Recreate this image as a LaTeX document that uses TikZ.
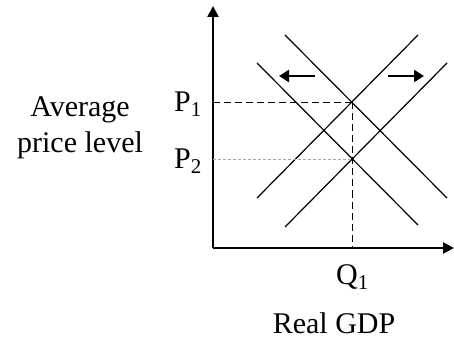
\documentclass[tikz,border=0pt]{standalone}
\usepackage{fontspec}
\setmainfont{Liberation Serif}
\usetikzlibrary{arrows.meta,positioning}

\begin{document}
\begin{tikzpicture}[x=1pt, y=1pt,
    axis/.style={line width=2.4pt, -{Triangle[length=11pt,width=11pt]}},
    curve/.style={line width=1.2pt},
    shift arrow/.style={line width=2.8pt, -{Triangle[length=10pt,width=12pt]}},
    lbl/.style={font=\fontsize{30}{36}\selectfont, inner sep=0pt}]

    \useasboundingbox (0,0) rectangle (454,340);

    % Axes
    \coordinate (O) at (213,92);
    \coordinate (ytop) at (213,334);
    \coordinate (xend) at (454,92);
    \draw[axis] (O) -- (ytop);
    \draw[axis] (O) -- (xend);

    % Curves
    \coordinate (A1) at (257,277); \coordinate (A2) at (418,115);
    \coordinate (B1) at (285,305); \coordinate (B2) at (447,142);
    \coordinate (C1) at (257,142); \coordinate (C2) at (418,305);
    \coordinate (D1) at (285,113); \coordinate (D2) at (447,277);
    \draw[curve] (A1) -- (A2);
    \draw[curve] (B1) -- (B2);
    \draw[curve] (C1) -- (C2);
    \draw[curve] (D1) -- (D2);

    % Equilibrium points
    \coordinate (E1) at (352.5,237.5);
    \coordinate (E2) at (352.5,181);
    \coordinate (P1y) at (213,237.5);
    \coordinate (P2y) at (213,181);
    \coordinate (Q1x) at (352.5,92);

    % Dashed lines
    \draw[line width=1.6pt, dash pattern=on 7pt off 4pt] (P1y) -- (E1);
    \draw[line width=1.6pt, dash pattern=on 7pt off 4pt] (E1) -- (Q1x);
    \draw[line width=0.8pt, gray!70, dash pattern=on 3pt off 2pt] (P2y) -- (E2);

    % Shift arrows
    \coordinate (L1) at (315,264); \coordinate (L2) at (279,264);
    \coordinate (R1) at (388,264); \coordinate (R2) at (424,264);
    \draw[shift arrow] (L1) -- (L2);
    \draw[shift arrow] (R1) -- (R2);

    % Labels
    \node[lbl] (P1) at (188,236) {P\textsubscript{1}};
    \node[lbl] (P2) at (188,179) {P\textsubscript{2}};
    \node[lbl] (Q1) at (352.5,63) {Q\textsubscript{1}};
    \node[lbl] (xlabel) at (334,17) {Real GDP};
    \node[lbl, align=center] (ylabel) at (80,212) {Average\\price level};

\end{tikzpicture}
\end{document}
